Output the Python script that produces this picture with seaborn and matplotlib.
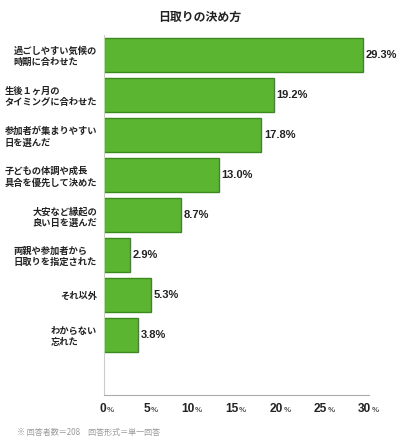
import pandas as pd
import seaborn as sns
import matplotlib.pyplot as plt

# data
categories = [
    "過ごしやすい気候の\n時期に合わせた",
    "生後１ヶ月の\nタイミングに合わせた",
    "参加者が集まりやすい\n日を選んだ",
    "子どもの体調や成長\n具合を優先して決めた",
    "大安など縁起の\n良い日を選んだ",
    "両親や参加者から\n日取りを指定された",
    "それ以外",
    "わからない\n忘れた",
]
values = [29.3, 19.2, 17.8, 13.0, 8.7, 2.9, 5.3, 3.8]
xticks = [0, 5, 10, 15, 20, 25, 30]

df = pd.DataFrame({"reason": categories, "pct": values})

sns.set_style("white")
plt.rcParams['font.family'] = ['Noto Sans CJK JP', 'DejaVu Sans']
num_font = ['Liberation Sans', 'DejaVu Sans']

fig = plt.figure(figsize=(4, 4.47), dpi=100)
ax = fig.add_axes([0.26, 0.1163, 0.6625, 0.8054])

sns.barplot(data=df, x="pct", y="reason", orient="h", color="#5cb531",
            edgecolor="#3b8a20", linewidth=1, width=0.87, saturation=1, ax=ax)

ax.set_xlim(0, 30)
ax.set_ylim(8.5, -0.5)
ax.set_xlabel("")
ax.set_ylabel("")

# value labels
for i, v in enumerate(values):
    ax.annotate(f"{v:.1f}%", xy=(v, i), xytext=(2, 0), textcoords="offset points",
                ha="left", va="center", fontsize=8, fontweight="bold", color="#222222",
                family=num_font)

# category labels
ax.tick_params(axis="y", length=0, pad=5)
for lbl in ax.get_yticklabels():
    lbl.set_fontsize(6.7)
    lbl.set_fontweight("bold")
    lbl.set_multialignment("left")
    lbl.set_linespacing(1.3)
    lbl.set_color("#222222")

# x ticks: number + small percent sign
ax.set_xticks(xticks)
ax.set_xticklabels([])
ax.tick_params(axis="x", direction="in", length=5, width=0.8, color="#aaaaaa")
for t in xticks:
    ax.annotate(str(t), xy=(t, 0), xycoords=("data", "axes fraction"),
                xytext=(1.8, -10), textcoords="offset points",
                ha="right", va="center", fontsize=8.6, fontweight="bold", color="#222222",
                family=num_font, annotation_clip=False)
    ax.annotate("%", xy=(t, 0), xycoords=("data", "axes fraction"),
                xytext=(1.9, -10.8), textcoords="offset points",
                ha="left", va="center", fontsize=5.8, fontweight="bold", color="#555555",
                family=num_font, annotation_clip=False)

sns.despine(ax=ax, top=True, right=True)
ax.spines["left"].set_color("#cccccc")
ax.spines["bottom"].set_color("#aaaaaa")
ax.spines["left"].set_linewidth(0.8)
ax.spines["bottom"].set_linewidth(0.8)

fig.text(0.5, 1 - 17 / 447, "日取りの決め方", ha="center", va="center",
         fontsize=8.6, fontweight="bold", color="#222222")
fig.text(17 / 400, 1 - 432 / 447, "※ 回答者数＝208　回答形式＝単一回答", ha="left", va="center",
         fontsize=5.8, color="#999999")

fig.savefig("out.png", dpi=100)
